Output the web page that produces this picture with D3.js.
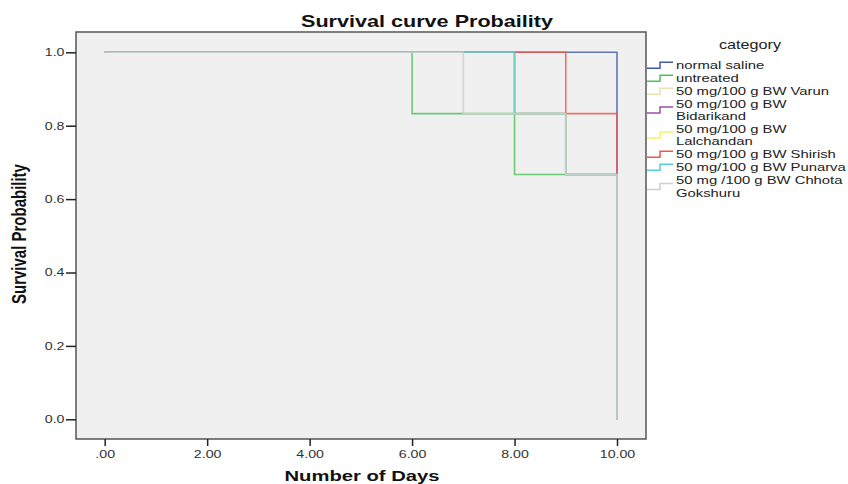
<!DOCTYPE html>
<html>
<head>
<meta charset="utf-8">
<script src="https://cdn.jsdelivr.net/npm/d3@7"></script>
<style>
  html, body { margin: 0; padding: 0; background: #fff; }
  svg { display: block; }
  text { font-family: "Liberation Sans", Arial, sans-serif; }
</style>
</head>
<body>
<svg id="chart" width="848" height="484"></svg>
<script>
// ---- Data ----
const categories = [
  "normal saline",
  "untreated",
  "50 mg/100 g BW Varun",
  "50 mg/100 g BW Bidarikand",
  "50 mg/100 g BW Lalchandan",
  "50 mg/100 g BW Shirish",
  "50 mg/100 g BW Punarva",
  "50 mg /100 g BW Chhota Gokshuru"
];
const legendLabels = [
  ["normal saline"],
  ["untreated"],
  ["50 mg/100 g BW Varun"],
  ["50 mg/100 g BW", "Bidarikand"],
  ["50 mg/100 g BW", "Lalchandan"],
  ["50 mg/100 g BW Shirish"],
  ["50 mg/100 g BW Punarva"],
  ["50 mg /100 g BW Chhota", "Gokshuru"]
];
// step survival curves: event days and survival probability from that day on
const seriesDays = [
  [0, 10],
  [0, 6, 8, 10],
  [0, 8, 9, 10],
  [0, 8, 9, 10],
  [0, 8, 9, 10],
  [0, 9, 10],
  [0, 8, 9, 10],
  [0, 7, 9, 10]
];
const seriesSurvival = [
  [1.0, 0.0],
  [1.0, 0.833, 0.667, 0.0],
  [1.0, 0.833, 0.667, 0.0],
  [1.0, 0.833, 0.667, 0.0],
  [1.0, 0.833, 0.667, 0.0],
  [1.0, 0.833, 0.0],
  [1.0, 0.833, 0.667, 0.0],
  [1.0, 0.833, 0.667, 0.0]
];
const colors = ["#3f5aad", "#4cc25a", "#e6e3b4", "#9c51a6", "#f7f560", "#f0564a", "#57ced6", "#d0d0d0"];
const xTicks = [0, 2, 4, 6, 8, 10];
const yTicks = [0, 0.2, 0.4, 0.6, 0.8, 1.0];

// ---- Layout ----
const SX = 1.35; // horizontal stretch of all text, as in the reference
const svg = d3.select("#chart");
const plot = { left: 76, top: 32, right: 646, bottom: 439 };

const x = d3.scaleLinear().domain([0, 10]).range([104.7, 617]);
const y = d3.scaleLinear().domain([0, 1]).range([419.3, 52.3]);

function stretchedText(parent, px, py, str, size, weight, anchor, fill) {
  return parent.append("text")
    .attr("transform", `translate(${px},${py}) scale(${SX},1)`)
    .attr("text-anchor", anchor || "start")
    .attr("font-size", size)
    .attr("font-weight", weight || "normal")
    .attr("fill", fill || "#222")
    .text(str);
}

// plot background
svg.append("rect")
  .attr("x", plot.left).attr("y", plot.top)
  .attr("width", plot.right - plot.left).attr("height", plot.bottom - plot.top)
  .attr("fill", "#f0f0f0");

// curves
const line = d3.line()
  .x(d => x(d[0])).y(d => y(d[1]))
  .curve(d3.curveStepAfter);

const seriesData = categories.map((c, i) => ({
  name: c,
  color: colors[i],
  pts: seriesDays[i].map((d, j) => [d, seriesSurvival[i][j]])
}));

svg.append("g").selectAll("path")
  .data(seriesData)
  .join("path")
  .attr("d", d => line(d.pts))
  .attr("fill", "none")
  .attr("stroke", d => d.color)
  .attr("stroke-width", 1.6)
  .attr("stroke-opacity", 0.82);

// plot border
svg.append("rect")
  .attr("x", plot.left).attr("y", plot.top)
  .attr("width", plot.right - plot.left).attr("height", plot.bottom - plot.top)
  .attr("fill", "none")
  .attr("stroke", "#555")
  .attr("stroke-width", 1.5);

// axes
const xAxis = d3.axisBottom(x).tickValues(xTicks).tickSize(7).tickPadding(5)
  .tickFormat(d => d === 0 ? ".00" : d3.format(".2f")(d));
const gx = svg.append("g").attr("transform", `translate(0,${plot.bottom})`).call(xAxis);
gx.select(".domain").remove();
gx.selectAll(".tick line").attr("stroke", "#222").attr("stroke-width", 1.5);
gx.selectAll(".tick text").attr("font-size", 10.5).attr("fill", "#333")
  .attr("transform", `scale(${SX},1)`)
  .attr("font-family", "'Liberation Sans', Arial, sans-serif");

const yAxis = d3.axisLeft(y).tickValues(yTicks).tickSize(10).tickPadding(2)
  .tickFormat(d3.format(".1f"));
const gy = svg.append("g").attr("transform", `translate(${plot.left},0)`).call(yAxis);
gy.select(".domain").remove();
gy.selectAll(".tick line").attr("stroke", "#222").attr("stroke-width", 1.5);
gy.selectAll(".tick text").attr("font-size", 10.5).attr("fill", "#333")
  .attr("x", -11.5 / SX)
  .attr("transform", `scale(${SX},1)`)
  .attr("font-family", "'Liberation Sans', Arial, sans-serif");

// title
stretchedText(svg, 427, 27, "Survival curve Probaility", 16, "bold", "middle", "#111");

// axis titles
stretchedText(svg, 362, 481, "Number of Days", 15, "bold", "middle", "#111");

svg.append("text")
  .attr("transform", `translate(26,234) rotate(-90) scale(1,${SX})`)
  .attr("text-anchor", "middle")
  .attr("font-size", 15).attr("font-weight", "bold").attr("fill", "#111")
  .text("Survival Probability");

// legend
const lg = svg.append("g");
stretchedText(lg, 750, 49, "category", 12, "normal", "middle", "#222");

const itemTops = [59, 72, 85, 97.5, 122.5, 148, 161, 174];
legendLabels.forEach((lines, i) => {
  const top = itemTops[i];
  const h = lines.length * 12.5;
  const cy = top + h / 2;
  const iconPath = d3.line()([[647, cy + 3], [660, cy + 3], [660, cy - 3], [673, cy - 3]]);
  lg.append("path")
    .attr("d", iconPath)
    .attr("fill", "none")
    .attr("stroke", colors[i])
    .attr("stroke-width", 1.5);
  lines.forEach((t, k) => {
    stretchedText(lg, 676, top + 10 + k * 12.5, t, 11, "normal", "start", "#222");
  });
});
</script>
</body>
</html>
